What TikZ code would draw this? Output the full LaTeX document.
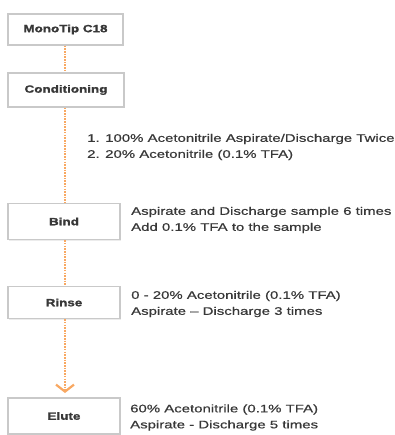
\documentclass[tikz,border=0pt]{standalone}
\usepackage{fontspec}
\newfontfamily\txfont[FakeStretch=1.36,FakeBold=0.6]{Liberation Sans}
\newfontfamily\bxfont[FakeStretch=1.28,BoldFeatures={FakeBold=1.2}]{Liberation Sans}
\usetikzlibrary{arrows.meta,shadows}
\definecolor{conn}{HTML}{F8A862}
\definecolor{boxline}{HTML}{C9C9C9}
\definecolor{txt}{HTML}{383838}
\tikzset{
  stepbox/.style={draw=boxline, line width=1.2pt, fill=white, inner sep=0pt,
    font=\bxfont\bfseries\fontsize{10.5}{12}\selectfont, text=txt,
    drop shadow={shadow xshift=1pt, shadow yshift=-1pt, opacity=0.15}},
  note/.style={anchor=west, align=left, inner sep=0pt, text=txt,
    font=\txfont\fontsize{11}{16}\selectfont},
  link/.style={draw=conn, line width=2.8pt, dash pattern=on 1.6pt off 1.1pt}
}
\begin{document}
\begin{tikzpicture}[x=1pt,y=1pt]
\useasboundingbox (0,0) rectangle (394,-435);
\node[stepbox, minimum width=115pt, minimum height=31pt] (mono) at (65.5,-29.5) {MonoTip C18};
\node[stepbox, minimum width=116pt, minimum height=34pt] (cond) at (66,-90) {Conditioning};
\node[stepbox, minimum width=112pt, minimum height=36pt] (bind) at (64,-221.5) {Bind};
\node[stepbox, minimum width=112pt, minimum height=32pt] (rinse) at (64,-302.5) {Rinse};
\node[stepbox, minimum width=112pt, minimum height=36pt] (elute) at (64,-416) {Elute};
\coordinate (tip) at (65,-393);
\draw[link] (mono.south -| 65,0) -- (cond.north -| 65,0);
\draw[link] (cond.south -| 65,0) -- (bind.north -| 65,0);
\draw[link] (bind.south -| 65,0) -- (rinse.north -| 65,0);
\draw[link, arrows={-Straight Barb[length=7pt,width=18pt,line width=2.2pt]}] (rinse.south -| 65,0) -- (tip);
\node[note] (condtxt) at (87,-147) {1. 100\% Acetonitrile Aspirate/Discharge Twice\\2. 20\% Acetonitrile (0.1\% TFA)};
\node[note] (bindtxt) at (131,-220) {Aspirate and Discharge sample 6 times\\Add 0.1\% TFA to the sample};
\node[note] (rinsetxt) at (131,-304) {0 - 20\% Acetonitrile (0.1\% TFA)\\Aspirate \textendash{} Discharge 3 times};
\node[note] (elutetxt) at (130,-417.5) {60\% Acetonitrile (0.1\% TFA)\\Aspirate - Discharge 5 times};
\end{tikzpicture}
\end{document}
